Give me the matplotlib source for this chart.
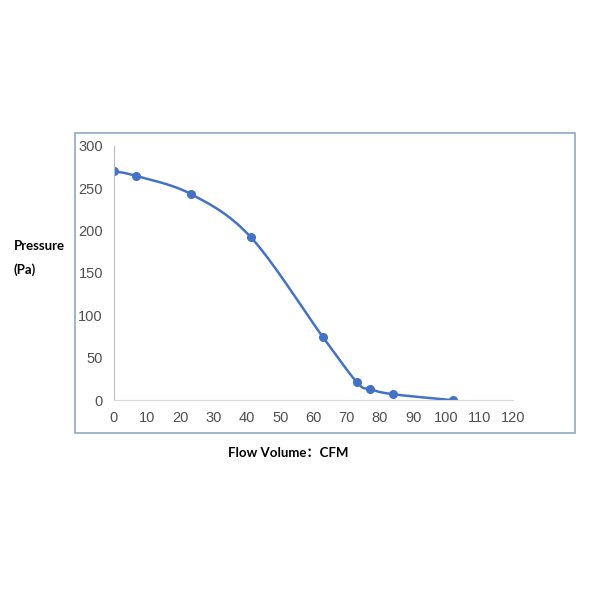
import numpy as np
import matplotlib.pyplot as plt
from matplotlib.patches import Rectangle

# flow (CFM) vs pressure (Pa)
flow = [0, 6.6, 23.2, 41.2, 62.9, 73.1, 77.0, 84.0, 102.0]
pressure = [270, 264.5, 243, 192, 74, 21, 13, 7, 0]
xticks = list(range(0, 121, 10))
yticks = list(range(0, 301, 50))


def smooth(xs, ys, n=30):
    # catmull-rom style smoothing, like excel's smoothed line
    p = np.column_stack([xs, ys]).astype(float)
    p = np.vstack([p[0], p, p[-1]])
    out = []
    for i in range(1, len(p) - 2):
        p0, p1, p2, p3 = p[i - 1], p[i], p[i + 1], p[i + 2]
        t = np.linspace(0, 1, n)[:, None]
        seg = 0.5 * ((2 * p1) + (-p0 + p2) * t
                     + (2 * p0 - 5 * p1 + 4 * p2 - p3) * t ** 2
                     + (-p0 + 3 * p1 - 3 * p2 + p3) * t ** 3)
        out.append(seg)
    out = np.vstack(out)
    return out[:, 0], out[:, 1]


fig = plt.figure(figsize=(6, 6), dpi=100)
fig.patches.append(Rectangle((0.125, 0.278), 0.833, 0.5, transform=fig.transFigure,
                             fill=False, edgecolor='#8fa8c8', linewidth=1.2))

ax = fig.add_axes([0.19, 0.333, 0.665, 0.424])
sx, sy = smooth(flow, pressure)
ax.plot(sx, sy, color='#4472C4', lw=1.8)
ax.plot(flow, pressure, 'o', color='#4472C4', ms=5.5)

ax.set_xlim(0, 120)
ax.set_ylim(0, 300)
ax.set_xticks(xticks)
ax.set_yticks(yticks)
for s in ['top', 'right']:
    ax.spines[s].set_visible(False)
ax.spines['left'].set_color('#bfbfbf')
ax.spines['bottom'].set_color('#d9d9d9')
ax.tick_params(length=0, labelsize=10.5, labelcolor='#505050', pad=8)
for lab in ax.get_xticklabels() + ax.get_yticklabels():
    lab.set_family('Liberation Sans')
ax.set_facecolor('none')

fig.text(0.023, 0.59, 'Pressure', fontsize=9.5, fontweight='bold', va='center', ha='left',
         family='Lato')
fig.text(0.023, 0.55, '(Pa)', fontsize=9.5, fontweight='bold', va='center', ha='left',
         family='Lato')
fig.text(0.48, 0.245, 'Flow Volume：CFM', fontsize=9.5, fontweight='bold', ha='center',
         va='center', family=['Lato', 'Noto Sans CJK SC'])

fig.savefig('out.png', dpi=100)
